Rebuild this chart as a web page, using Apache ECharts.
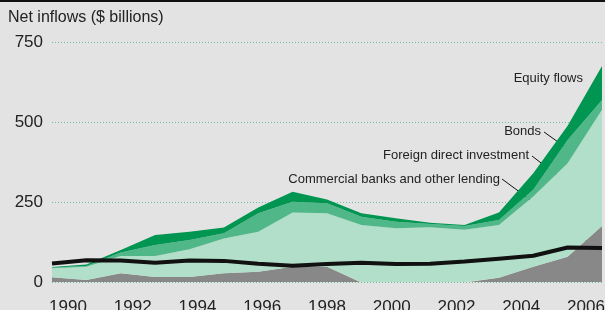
<!DOCTYPE html>
<html>
<head>
<meta charset="utf-8">
<script src="https://cdn.jsdelivr.net/npm/echarts@6/dist/echarts.min.js"></script>
<style>
  html, body { margin: 0; padding: 0; background: #e3e3e3; }
  #chart { width: 605px; height: 310px; }
</style>
</head>
<body>
<div id="chart"></div>
<script>
// net inflows, $ billions
var years = ['1990', '1991', '1992', '1993', '1994', '1995', '1996', '1997', '1998', '1999', '2000', '2001', '2002', '2003', '2004', '2005', '2006'];
var commercial = [15, 6, 27, 16, 16, 27, 32, 48, 48, -2, -3, -3, -2, 13, 48, 79, 175];
var fdi = [28, 42, 54, 65, 86, 109, 125, 169, 167, 178, 168, 171, 163, 165, 219, 292, 363];
var bonds = [2, 2, 11, 35, 29, 16, 58, 34, 31, 26, 20, 10, 12, 16, 21, 73, 31];
var equity = [2, 5, 8, 31, 26, 18, 18, 31, 12, 11, 11, 4, 3, 23, 52, 44, 106];
var oda = [58, 68, 67, 60, 67, 66, 57, 51, 56, 60, 56, 57, 64, 73, 82, 108, 106];
var yTicks = [0, 250, 500, 750];

var font = 'Liberation Sans, Arial, sans-serif';
var textColor = '#222';

function areaSeries(name, data, color) {
  return {
    name: name,
    type: 'line',
    stack: 'flows',
    data: data,
    symbol: 'none',
    lineStyle: { width: 0 },
    areaStyle: { color: color, opacity: 1 },
    silent: true
  };
}

var chart = echarts.init(document.getElementById('chart'));

var option = {
  backgroundColor: '#e3e3e3',
  animation: false,
  grid: [
    { left: 52, right: 3, top: 42, bottom: 28, outerBoundsMode: 'none' },
    { left: 68, right: 19, top: 42, bottom: 28, outerBoundsMode: 'none' }
  ],
  xAxis: [
    {
      type: 'category', gridIndex: 0, data: years, boundaryGap: false,
      axisLine: { show: false }, axisTick: { show: false },
      axisLabel: { show: false }, splitLine: { show: false }
    },
    {
      // year labels sit on their own spacing in the original
      type: 'value', gridIndex: 1, min: 1990, max: 2006, interval: 2,
      axisLine: { show: false }, axisTick: { show: false },
      splitLine: { show: false },
      axisLabel: {
        color: textColor, fontSize: 17, fontFamily: font, margin: 17,
        formatter: function (v) { return String(v); }
      }
    }
  ],
  yAxis: [
    {
      type: 'value', gridIndex: 0, min: yTicks[0], max: yTicks[yTicks.length - 1], interval: 250,
      axisLine: { show: false }, axisTick: { show: false },
      axisLabel: { color: textColor, fontSize: 17, fontFamily: font, margin: 9 },
      splitLine: { show: true, lineStyle: { color: '#6cc0a0', type: [1, 2], width: 1 } }
    },
    {
      type: 'value', gridIndex: 1, min: 0, max: 750, show: false
    }
  ],
  series: [
    areaSeries('Commercial banks and other lending', commercial, '#888888'),
    areaSeries('Foreign direct investment', fdi, '#b2dfc9'),
    areaSeries('Bonds', bonds, '#50b789'),
    areaSeries('Equity flows', equity, '#009652'),
    {
      name: 'Official development assistance',
      type: 'line',
      data: oda,
      symbol: 'none',
      z: 5,
      lineStyle: { color: '#111', width: 4 },
      silent: true
    }
  ],
  graphic: [
    { type: 'rect', shape: { x: 0, y: 0, width: 605, height: 2 }, style: { fill: '#111' } },
    { type: 'text', left: 8, top: 10, style: { text: 'Net inflows ($ billions)', fill: textColor, font: '16px ' + font } },

    { type: 'text', x: 583, y: 78, style: { text: 'Equity flows', fill: textColor, font: '13px ' + font, align: 'right', verticalAlign: 'middle' } },

    { type: 'text', x: 541, y: 131, style: { text: 'Bonds', fill: textColor, font: '13px ' + font, align: 'right', verticalAlign: 'middle' } },
    { type: 'line', shape: { x1: 544, y1: 132, x2: 568, y2: 149 }, style: { stroke: '#111', lineWidth: 1 } },

    { type: 'text', x: 529, y: 155, style: { text: 'Foreign direct investment', fill: textColor, font: '13px ' + font, align: 'right', verticalAlign: 'middle' } },
    { type: 'line', shape: { x1: 532, y1: 156, x2: 562, y2: 179 }, style: { stroke: '#111', lineWidth: 1 } },

    { type: 'text', x: 500, y: 179, style: { text: 'Commercial banks and other lending', fill: textColor, font: '13px ' + font, align: 'right', verticalAlign: 'middle' } },
    { type: 'line', shape: { x1: 502, y1: 179, x2: 586, y2: 241 }, style: { stroke: '#111', lineWidth: 1 } },

    { type: 'text', x: 420, y: 250, style: { text: 'Official development assistance', fill: textColor, font: '13px ' + font, align: 'right', verticalAlign: 'middle' } },
    { type: 'line', shape: { x1: 424, y1: 251, x2: 439, y2: 260 }, style: { stroke: '#111', lineWidth: 1 } }
  ]
};

chart.setOption(option);
</script>
</body>
</html>
